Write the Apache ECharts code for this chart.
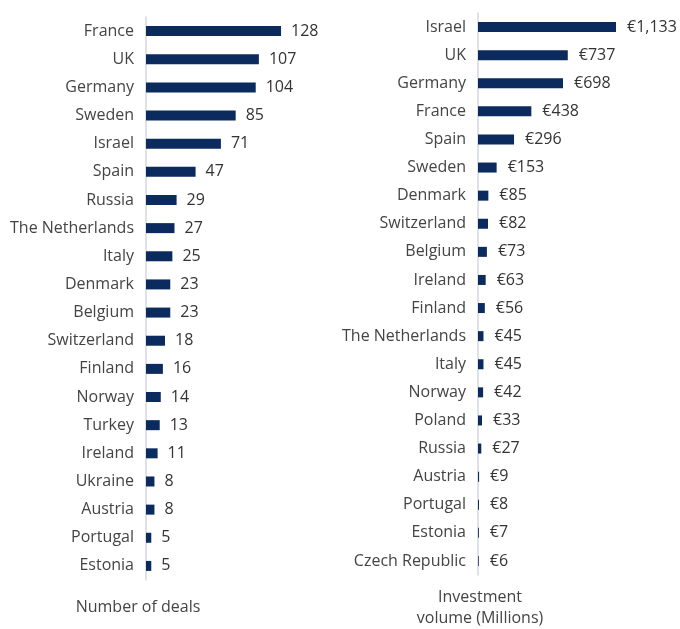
<!DOCTYPE html>
<html><head><meta charset="utf-8">
<script src="https://cdn.jsdelivr.net/npm/echarts@6/dist/echarts.min.js"></script>
<style>html,body{margin:0;padding:0;background:#fff}#c{width:680px;height:629px}</style>
</head><body><div id="c"></div>
<script>
const dealCountries = ["France","UK","Germany","Sweden","Israel","Spain","Russia","The Netherlands","Italy","Denmark","Belgium","Switzerland","Finland","Norway","Turkey","Ireland","Ukraine","Austria","Portugal","Estonia"];
const dealValues = [128,107,104,85,71,47,29,27,25,23,23,18,16,14,13,11,8,8,5,5];
const invCountries = ["Israel","UK","Germany","France","Spain","Sweden","Denmark","Switzerland","Belgium","Ireland","Finland","The Netherlands","Italy","Norway","Poland","Russia","Austria","Portugal","Estonia","Czech Republic"];
const invValues = [1133,737,698,438,296,153,85,82,73,63,56,45,45,42,33,27,9,8,7,6];
const leftTitle = "Number of deals";
const rightTitle = "Investment\nvolume (Millions)";

const FONT = "'Open Sans', sans-serif";
const BAR = "#0b2a5e";
const chart = echarts.init(document.getElementById('c'));
const catAxis = (gi, data) => ({
  type:'category', gridIndex:gi, data:data, inverse:true,
  axisLine:{show:true, lineStyle:{color:'#d3d7df', width:1.5}},
  axisTick:{show:false},
  axisLabel:{color:'#444', fontSize:16, fontFamily:FONT, margin:12}
});
chart.setOption({
  animation:false,
  title:[
    {text:leftTitle, left:133, top:594, textAlign:'center', textStyle:{color:'#444', fontSize:16, fontWeight:'normal', fontFamily:FONT}},
    {text:rightTitle, left:475, top:582, textAlign:'center', textStyle:{color:'#444', fontSize:16, fontWeight:'normal', fontFamily:FONT, lineHeight:21}}
  ],
  grid:[
    {left:146, top:17, width:211, height:563},
    {left:478, top:13, width:182.7, height:562}
  ],
  xAxis:[
    {type:'value', gridIndex:0, min:0, max:200, show:false},
    {type:'value', gridIndex:1, min:0, max:1500, show:false}
  ],
  yAxis:[catAxis(0, dealCountries), catAxis(1, invCountries)],
  series:[
    {type:'bar', xAxisIndex:0, yAxisIndex:0, data:dealValues, barWidth:10,
     itemStyle:{color:BAR},
     label:{show:true, position:'right', distance:10, color:'#333', fontSize:16, fontFamily:FONT}},
    {type:'bar', xAxisIndex:1, yAxisIndex:1, data:invValues, barWidth:10,
     itemStyle:{color:BAR},
     label:{show:true, position:'right', distance:11, color:'#333', fontSize:16, fontFamily:FONT,
       formatter:p => '€' + p.value.toLocaleString('en-US')}}
  ]
});
</script></body></html>
